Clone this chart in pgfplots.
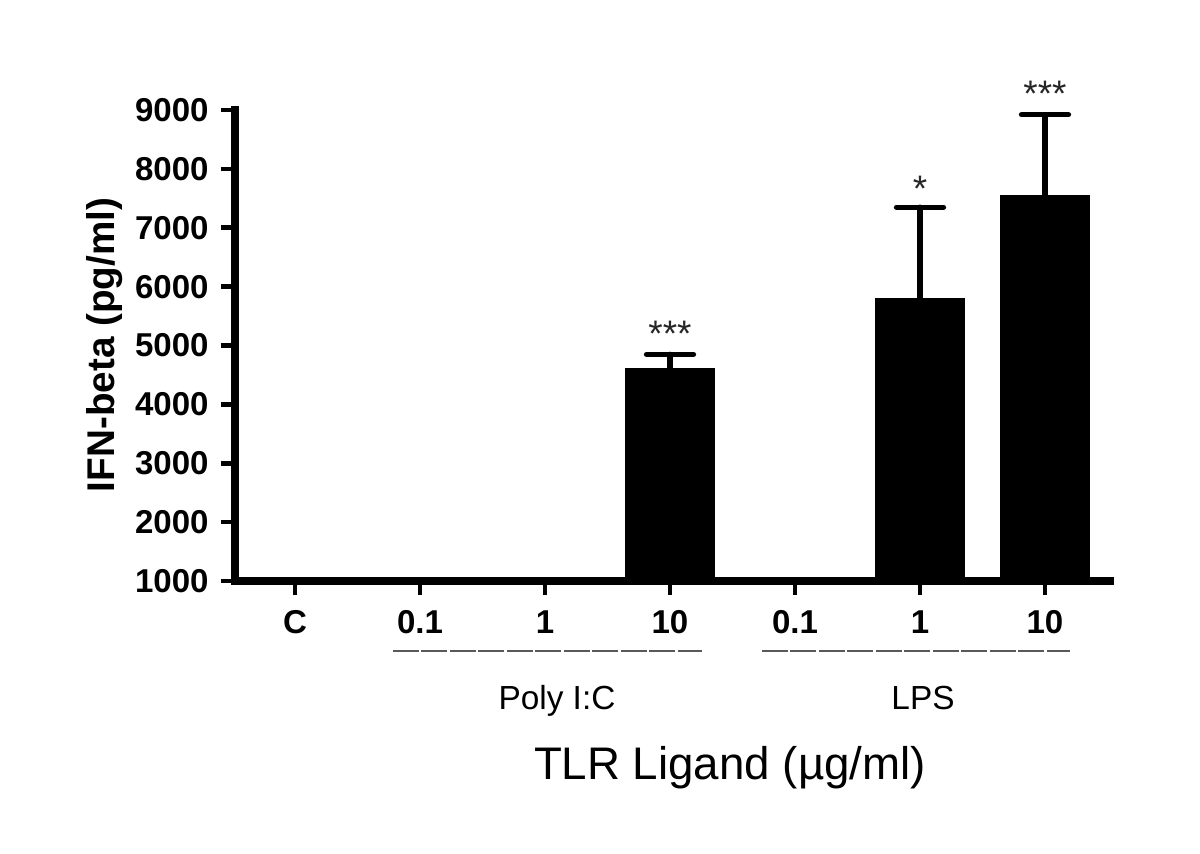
\documentclass[border=0pt]{standalone}
\usepackage{pgfplots}
\pgfplotsset{compat=1.18}
\usepackage{fontspec}
\setmainfont{Liberation Sans}
\begin{document}
\begin{tikzpicture}
\path[use as bounding box] (-2.35cm,-2.72cm) rectangle (9.65cm,5.81cm);
\begin{axis}[
  at={(0,0)}, anchor=south west,
  scale only axis,
  width=8.75cm, height=4.71cm,
  xmin=-0.48, xmax=6.52,
  ymin=1000, ymax=9000,
  ytick={1000,2000,...,9000},
  xtick={0,...,6},
  xticklabels={C,0.1,1,10,0.1,1,10},
  axis x line=bottom, axis y line=left,
  axis line style={-, line width=2.2pt, line cap=rect},
  tick align=outside,
  major tick length=0.14cm,
  tick style={line width=1.3pt, black},
  ticklabel style={font=\fontsize{9.4}{10}\selectfont\bfseries},
  xticklabel style={text height=0.75em, text depth=0pt},
  /pgf/number format/assume math mode=true,
  /pgf/number format/1000 sep={},
  clip=false,
]
\addplot[ybar, bar width=0.88cm, fill=black, draw=black,
  error bars/.cd, y dir=plus, y explicit,
  error bar style={line width=1.5pt, line cap=round},
  error mark options={rotate=90, mark size=0.235cm, line width=1.5pt, line cap=round}]
  table[x=x, y=y, y error=ey] {
x y ey
3 4610 240
5 5800 1550
6 7540 1380
};
\node[anchor=base, font=\fontsize{10.5}{12}\selectfont, text=black!85, yshift=0.08cm] at (axis cs:3,4850) {***};
\node[anchor=base, font=\fontsize{10.5}{12}\selectfont, text=black!85, yshift=0.06cm] at (axis cs:5,7350) {*};
\node[anchor=base, font=\fontsize{10.5}{12}\selectfont, text=black!85, yshift=0.08cm] at (axis cs:6,8920) {***};
\end{axis}
\draw[gray!70!black, line width=0.5pt, dash pattern=on 0.26cm off 0.025cm] (1.58,-0.70) -- (4.67,-0.70);
\draw[gray!70!black, line width=0.5pt, dash pattern=on 0.26cm off 0.025cm] (5.27,-0.70) -- (8.35,-0.70);
\node[anchor=base, font=\fontsize{9.5}{11}\selectfont] at (3.22,-1.28) {Poly I:C};
\node[anchor=base, font=\fontsize{9.5}{11}\selectfont] at (6.88,-1.28) {LPS};
\node[font=\fontsize{13}{15}\selectfont] at (4.95,-1.87) {TLR Ligand (µg/ml)};
\node[rotate=90, font=\fontsize{11}{12}\selectfont\bfseries] at (-1.30,2.36) {IFN-beta (pg/ml)};
\end{tikzpicture}
\end{document}
